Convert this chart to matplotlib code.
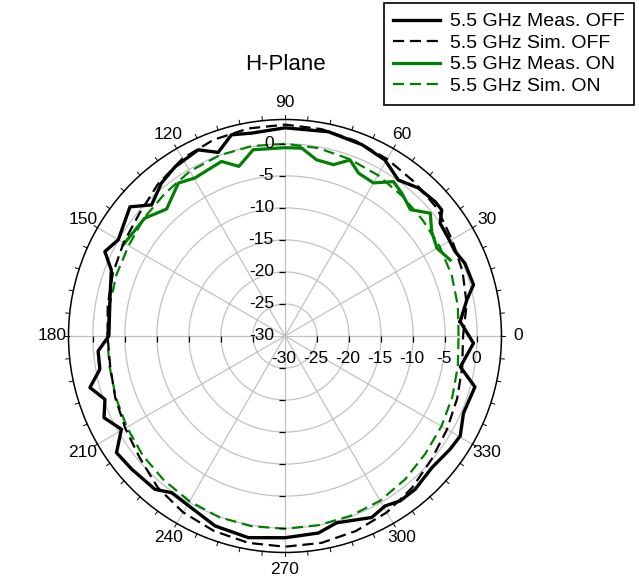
import numpy as np
import matplotlib
matplotlib.use("Agg")
import matplotlib.pyplot as plt
from matplotlib.transforms import offset_copy

plt.rcParams['font.family'] = ['Liberation Sans', 'DejaVu Sans']

# ---------------- data (angle in degrees, gain in dB) ----------------
meas_off_ang = [4.7, 11.2, 15.2, 22, 26.4, 31, 36, 38.8, 41.8, 48, 54, 60.4, 68.1, 78, 90,
                99.3, 104.9, 110, 115, 123, 128.9, 135.5, 140.2, 150, 154.9, 159.2, 167.3,
                180, 184.6, 190.2, 194.8, 199.4, 204.3, 209.7, 214.7, 221, 229.7, 234.1,
                249.8, 259.7, 270, 279.6, 285.5, 295.5, 300.5, 304.9, 310.3, 318.1, 325.5,
                330.3, 336.6, 345, 350, 357.8]
meas_off_db = [-2.56, -1.06, 0.5, 0.3, -0.35, -0.27, -0.06, 1.4, 1.45, 1.1, 0.1, 1.6, 2.2, 2.6, 2.5,
               2.1, 2.5, 0.5, 2.07, 1.5, 0.7, -0.8, 1.5, 0.05, 1.06, -1.0, -2.0,
               -2.5, -0.73, -0.63, 1.5, -0.2, 1.0, -0.6, 2.0, 1.7, 1.4, 0.2,
               1.6, 2.0, 1.5, 1.2, 0.26, 1.4, 0.8, 1.4, 1.4, 0.8, 1.25,
               1.5, 0.36, 0.7, -2.2, -0.55]

sim_off_ang = [0, 10, 20, 30, 40, 50, 60, 70, 80, 90, 100, 110, 120, 130, 140, 150, 160, 170,
               180, 190, 200, 210, 220, 230, 240, 250, 260, 270, 280, 290, 300, 310, 320, 330,
               340, 350, 360]
sim_off_db = [-2.2, -1.2, -0.5, 0.1, 1.0, 1.4, 1.9, 2.4, 2.8, 3.0, 2.9, 2.6, 2.0, 0.9, -0.3, -0.9,
              -1.4, -1.9, -2.3, -2.3, -1.8, -1.2, -0.4, 0.9, 1.8, 2.4, 2.8, 2.9, 2.8, 2.4, 1.8,
              0.9, -0.1, -0.8, -1.4, -1.9, -2.2]

meas_on_ang = [24.7, 30, 35.4, 40.2, 45.2, 50.7, 54.9, 60, 65.7, 69.7, 74.2, 79.8, 84.9, 90,
               99.7, 105.2, 110, 119.7, 124.9, 133, 140, 150.6]
meas_on_db = [-1.6, -2.6, -1.9, -0.3, -2.2, -1.2, -0.55, -2.4, -2.1, -0.7, -2.2, -2.06, -0.56, -0.6,
              -0.5, -2.56, -1.0, -1.6, -0.9, -2.9, -1.4, -1.0]

sim_on_ang = sim_off_ang
sim_on_db = [-2.9, -2.6, -2.3, -2.1, -1.9, -1.5, -1.0, -0.6, -0.2, 0.0, 0.1, 0.0, -0.3, -0.9, -1.3,
             -1.8, -2.0, -2.2, -2.2, -2.2, -1.9, -1.5, -1.0, -0.6, -0.2, 0.1, 0.15, 0.1, 0.0,
             -0.1, -0.3, -0.8, -1.4, -1.8, -2.2, -2.6, -2.9]

labels = ["5.5 GHz Meas. OFF", "5.5 GHz Sim. OFF", "5.5 GHz Meas. ON", "5.5 GHz Sim. ON"]
theta_labels = [0, 30, 60, 90, 120, 150, 180, 210, 240, 270, 300, 330]
r_ticks = [-25, -20, -15, -10, -5, 0]
r_labels = [-30, -25, -20, -15, -10, -5, 0]
RMIN, RMAX = -30, 3.8

# ---------------- figure ----------------
fig = plt.figure(figsize=(6.39, 5.77), dpi=100)
ax = fig.add_axes([0.1072, 0.0425, 0.6776, 0.7504], projection='polar')
ax.set_ylim(RMIN, RMAX)
ax.set_xticks(np.deg2rad(theta_labels))
ax.set_xticklabels([])
ax.set_yticks(r_ticks)
ax.set_yticklabels([])
ax.tick_params(length=0)
ax.grid(True, color='#c2c2c2', lw=0.9)
ax.spines['polar'].set_linewidth(1.1)
ax.spines['polar'].set_color('black')

def closed(a, d):
    return np.deg2rad(np.r_[a, a[0] + 360]), np.r_[d, d[0]]

l4, = ax.plot(np.deg2rad(sim_on_ang), sim_on_db, color='#008000', lw=1.6,
              ls=(0, (5, 2.6)), label=labels[3])
l3, = ax.plot(np.deg2rad(meas_on_ang), meas_on_db, color='#008000', lw=2.3, label=labels[2])
l2, = ax.plot(np.deg2rad(sim_off_ang), sim_off_db, color='black', lw=1.6,
              ls=(0, (5, 2.6)), label=labels[1])
t, r = closed(np.array(meas_off_ang), np.array(meas_off_db))
l1, = ax.plot(t, r, color='black', lw=2.4, label=labels[0])

# outer minor ticks every 6 degrees
tk_len = 4 / 6.405
for a in range(0, 360, 6):
    th = np.deg2rad(a)
    ax.plot([th, th], [RMAX, RMAX + tk_len], color='black', lw=0.7, clip_on=False)

# radial axis ticks
for rv in r_ticks:
    for a in (90, 270):
        ax.plot(np.deg2rad(a), rv, marker=0, ms=4, mew=0.9, color='black', clip_on=False)
    for a in (0, 180):
        ax.plot(np.deg2rad(a), rv, marker=3, ms=4, mew=0.9, color='black', clip_on=False)

# radial labels
tr_v = offset_copy(ax.transData, fig=fig, x=-11, y=0, units='dots')
tr_h = offset_copy(ax.transData, fig=fig, x=-1, y=-23, units='dots')
for rv in r_labels:
    ax.text(np.pi / 2, rv, f"{rv}", transform=tr_v, ha='right', va='center', fontsize=12.5)
    ax.text(0, rv, f"{rv}", transform=tr_h, ha='center', va='center', fontsize=12.5)

# angle labels
for a in theta_labels:
    ax.text(np.deg2rad(a), 6.4, f"{a}", ha='center', va='center', fontsize=12.5, clip_on=False)

fig.text(285 / 639, 1 - 65 / 577, "H-Plane", ha='center', va='center', fontsize=16)

leg = fig.legend(handles=[l1, l2, l3, l4], loc='upper right',
                 bbox_to_anchor=(634 / 639, 1 - 3 / 577), bbox_transform=fig.transFigure,
                 fontsize=14, frameon=True, fancybox=False, edgecolor='black', framealpha=1,
                 borderaxespad=0, handlelength=2.4, handletextpad=0.5, labelspacing=0.2,
                 borderpad=0.5)
leg.get_frame().set_linewidth(1.2)

fig.savefig("out.png", dpi=100)
